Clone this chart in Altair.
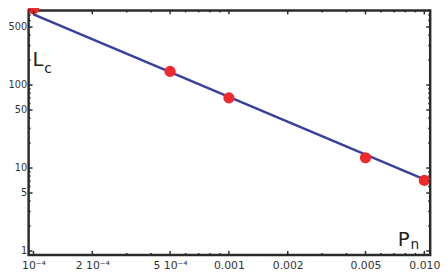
import json
import altair as alt
import pandas as pd

# data
p_vals = [1e-4, 5e-4, 1e-3, 5e-3, 1e-2]
lc_vals = [830, 146, 70, 13.3, 7.1]
fit_p = [1e-4, 1e-2]
fit_lc = [710, 7.3]

x_tick_vals = [1e-4, 2e-4, 5e-4, 1e-3, 2e-3, 5e-3, 1e-2]
x_tick_labels = ["10⁻⁴", "2 10⁻⁴", "5 10⁻⁴", "0.001", "0.002", "0.005", "0.010"]
x_minor = [3e-4, 4e-4, 6e-4, 7e-4, 8e-4, 9e-4, 3e-3, 4e-3, 6e-3, 7e-3, 8e-3, 9e-3]
y_tick_vals = [1, 5, 10, 50, 100, 500]
y_tick_labels = ["1", "5", "10", "50", "100", "500"]
y_minor = [2, 3, 4, 6, 7, 8, 9, 20, 30, 40, 60, 70, 80, 90, 200, 300, 400, 600, 700, 800, 900]

LEFT = 21
W, H = 409, 249
FONT = "DejaVu Sans"
FRAME = "#2b2b2b"

x_scale = alt.Scale(type="log", domain=[10 ** -4.025, 10 ** -1.97], nice=False)
y_scale = alt.Scale(type="log", domain=[10 ** -0.047, 10 ** 2.899], nice=False)

x_lab = "[" + ",".join(json.dumps(s) for s in x_tick_labels) + "][indexof(" + json.dumps(x_tick_vals) + ", datum.value)]"
y_lab = "[" + ",".join(json.dumps(s) for s in y_tick_labels) + "][indexof(" + json.dumps(y_tick_vals) + ", datum.value)]"

x_axis = alt.Axis(values=x_tick_vals, labelExpr=x_lab, ticks=False, domain=False, grid=False,
                  labelFont=FONT, labelFontSize=11, labelColor="#333", labelPadding=5, title=None)
y_axis = alt.Axis(values=y_tick_vals, labelExpr=y_lab, ticks=False, domain=False, grid=False,
                  labelFont="DejaVu Sans Condensed", labelFontSize=11, labelColor="#333",
                  labelPadding=2, title=None)

X = lambda: alt.X("p:Q", scale=x_scale, axis=x_axis)
Y = lambda: alt.Y("lc:Q", scale=y_scale, axis=y_axis)

pts = pd.DataFrame({"p": p_vals, "lc": lc_vals})
fit = pd.DataFrame({"p": fit_p, "lc": fit_lc})

line = alt.Chart(fit).mark_line(color="#3a3f9e", strokeWidth=2.5).encode(x=X(), y=Y())
dots = alt.Chart(pts).mark_circle(color="#ee2a2a", opacity=1, size=130, clip=False).encode(x=X(), y=Y())

def xticks(vals, length):
    d = pd.DataFrame({"p": vals})
    b = alt.Chart(d).mark_rule(color=FRAME, strokeWidth=1.5).encode(
        x=X(), y=alt.value(H), y2=alt.value(H - length))
    t = alt.Chart(d).mark_rule(color=FRAME, strokeWidth=1.5).encode(
        x=X(), y=alt.value(0), y2=alt.value(length))
    return [b, t]

def yticks(vals, length):
    d = pd.DataFrame({"lc": vals})
    l = alt.Chart(d).mark_rule(color=FRAME, strokeWidth=1.5).encode(
        y=Y(), x=alt.value(0), x2=alt.value(length))
    r = alt.Chart(d).mark_rule(color=FRAME, strokeWidth=1.5).encode(
        y=Y(), x=alt.value(W), x2=alt.value(W - length))
    return [l, r]

ticks = xticks(x_tick_vals, 4) + xticks(x_minor, 2) + yticks(y_tick_vals, 4) + yticks(y_minor, 2)

def label(txt, x, y, size):
    return alt.Chart(pd.DataFrame({"t": [txt]})).mark_text(
        font=FONT, fontSize=size, color="#222", align="left", baseline="alphabetic"
    ).encode(text="t:N", x=alt.value(x), y=alt.value(y))

lc_title = [label("L", 4, 57, 20), label("c", 16, 64, 14)]
pn_title = [label("P", 376, 240, 20), label("n", 389, 243, 14)]

chart = alt.layer(line, dots, *ticks, *lc_title, *pn_title).properties(
    width=W, height=H,
    autosize=alt.AutoSizeParams(type="none"),
    padding={"left": LEFT, "top": 0, "right": 10, "bottom": 20},
).configure_view(stroke=FRAME, strokeWidth=2.5)

chart.save("out.html", embed_options={"renderer": "svg", "actions": False})
